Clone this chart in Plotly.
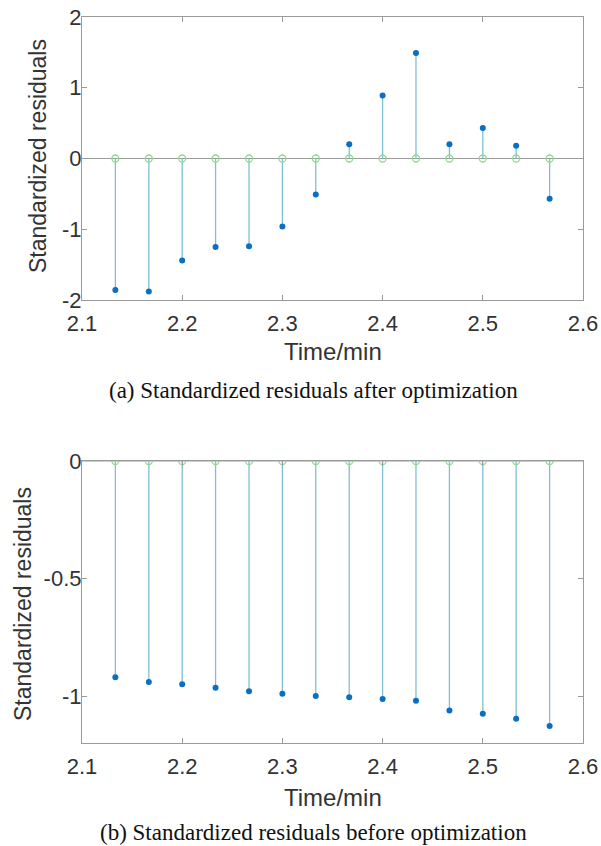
import plotly.graph_objects as go

time_min = [2.1333, 2.1667, 2.2, 2.2333, 2.2667, 2.3, 2.3333, 2.3667, 2.4, 2.4333, 2.4667, 2.5, 2.5333, 2.5667]
resid_after = [-1.86, -1.88, -1.44, -1.25, -1.24, -0.96, -0.51, 0.20, 0.89, 1.49, 0.20, 0.43, 0.18, -0.57]
resid_before = [-0.92, -0.94, -0.95, -0.965, -0.98, -0.99, -1.0, -1.005, -1.013, -1.02, -1.062, -1.075, -1.097, -1.128]

x_ticks = [2.1, 2.2, 2.3, 2.4, 2.5, 2.6]
x_labels = ["2.1", "2.2", "2.3", "2.4", "2.5", "2.6"]
y_ticks_a = [-2, -1, 0, 1, 2]
y_labels_a = ["-2", "-1", "0", "1", "2"]
y_ticks_b = [-1, -0.5, 0]
y_labels_b = ["-1", "-0.5", "0"]

STEM = "#80bfd3"
DOT = "#0a6fc2"
BASE = "#8edb8e"
AXIS = "#9a9a9a"
TXT = "#333333"
SANS = "Liberation Sans, Arial, sans-serif"

fig = go.Figure()

def add_stems(vals, xa, ya):
    sx, sy = [], []
    for t, v in zip(time_min, vals):
        sx += [t, t, None]
        sy += [0, v, None]
    fig.add_trace(go.Scatter(x=sx, y=sy, mode="lines", line=dict(color=STEM, width=1.3),
                             xaxis=xa, yaxis=ya, showlegend=False, hoverinfo="skip"))
    fig.add_trace(go.Scatter(x=time_min, y=[0] * len(time_min), mode="markers",
                             marker=dict(symbol="circle-open", size=7, color=BASE, line=dict(width=1.3, color=BASE)),
                             xaxis=xa, yaxis=ya, showlegend=False))
    fig.add_trace(go.Scatter(x=time_min, y=vals, mode="markers",
                             marker=dict(symbol="circle", size=6, color=DOT),
                             xaxis=xa, yaxis=ya, showlegend=False))

add_stems(resid_after, "x", "y")
add_stems(resid_before, "x2", "y2")

for xr, yr in (("x domain", "y"), ("x2 domain", "y2")):
    fig.add_shape(type="line", xref=xr, yref=yr, x0=0, x1=1, y0=0, y1=0,
                  line=dict(color=AXIS, width=1.2), layer="below")

W, H = 601, 846
dom_x = [82 / W, 583 / W]
axis_common = dict(showgrid=False, zeroline=False, showline=True, linecolor=AXIS, linewidth=1.2,
                   mirror="ticks", ticks="inside", ticklen=5, tickcolor=AXIS, automargin=False,
                   tickfont=dict(family=SANS, size=22, color=TXT))

fig.update_layout(
    template="none",
    width=W, height=H, margin=dict(l=0, r=0, t=0, b=0, autoexpand=False),
    paper_bgcolor="white", plot_bgcolor="white",
    xaxis=dict(domain=dom_x, range=[2.1, 2.6], tickvals=x_ticks, ticktext=x_labels, anchor="y",
               ticklabelstandoff=3, **axis_common),
    yaxis=dict(domain=[1 - 300 / H, 1 - 17 / H], range=[-2, 2], tickvals=y_ticks_a, ticktext=y_labels_a,
               anchor="x", ticklabelstandoff=-5, **axis_common),
    xaxis2=dict(domain=dom_x, range=[2.1, 2.6], tickvals=x_ticks, ticktext=x_labels, anchor="y2",
                ticklabelstandoff=3, **axis_common),
    yaxis2=dict(domain=[1 - 743 / H, 1 - 461 / H], range=[-1.2, 0], tickvals=y_ticks_b, ticktext=y_labels_b,
                anchor="x2", ticklabelstandoff=-5, **axis_common),
)

title_font = dict(family=SANS, size=24, color=TXT)
for ypx in (352, 797):
    fig.add_annotation(text="Time/min", xref="paper", yref="paper", x=332.5 / W, y=1 - ypx / H,
                       showarrow=False, xanchor="center", yanchor="middle", font=title_font)
for xpx, ypx in ((38, 156), (23, 604)):
    fig.add_annotation(text="Standardized residuals", xref="paper", yref="paper", x=xpx / W, y=1 - ypx / H,
                       showarrow=False, xanchor="center", yanchor="middle", textangle=-90,
                       font=dict(family=SANS, size=23, color=TXT))

for txt, ypx in (("(a) Standardized residuals after optimization", 391),
                 ("(b) Standardized residuals before optimization", 832)):
    fig.add_annotation(text=txt, xref="paper", yref="paper", x=313 / W, y=1 - ypx / H,
                       showarrow=False, xanchor="center", yanchor="middle",
                       font=dict(family="Liberation Serif, serif", size=23, color="#111111"))

fig.write_html("out.html", config={"displayModeBar": False},
               post_script="document.body.style.margin='0px';")
